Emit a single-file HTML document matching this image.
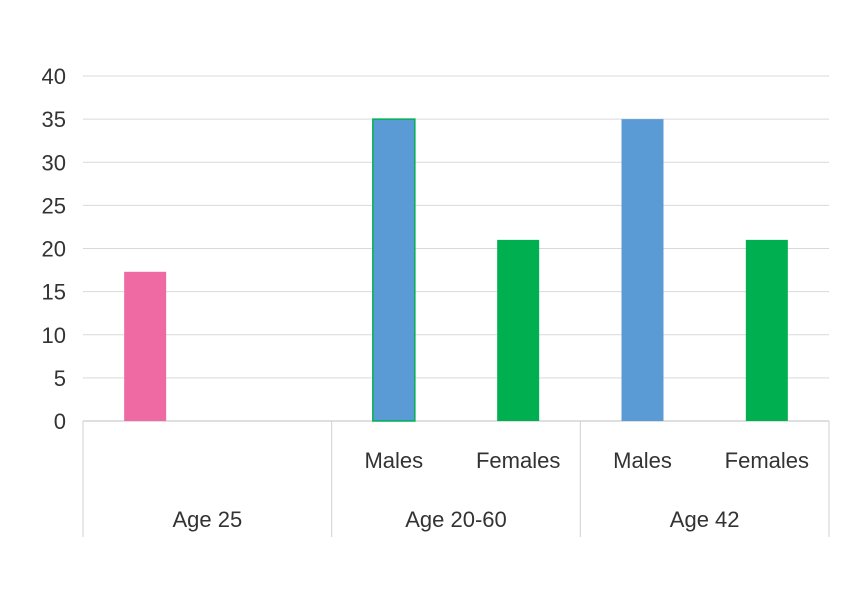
<!DOCTYPE html>
<html><head><meta charset="utf-8"><style>
html,body{margin:0;padding:0;background:#fff;}
svg{display:block;font-family:"Liberation Sans",sans-serif;}
</style></head><body>
<svg id="chart" width="868" height="602"></svg>
<script>
const groups = ["Age 25","Age 20-60","Age 42"];
const subLabels = ["","","Males","Females","Males","Females"];
const values = [17.3,null,35,21,35,21];
const colors = ["#ef6aa3",null,"#5b9bd5","#00b050","#5b9bd5","#00b050"];
const yTicks = [0,5,10,15,20,25,30,35,40];

const NS="http://www.w3.org/2000/svg";
const svg=document.getElementById('chart');
const x0=83,x1=829,yTop=76,yBot=421,yMax=40;
const slotW=(x1-x0)/values.length;
const y=v=>yBot-(v/yMax)*(yBot-yTop);
const xc=i=>x0+slotW*(i+0.5);
function mk(t,a,p){const e=document.createElementNS(NS,t);for(const k in a)e.setAttribute(k,a[k]);(p||svg).appendChild(e);return e;}

yTicks.forEach(t=>{
  const g=mk('line',{x1:x0,x2:x1,y1:y(t),y2:y(t),stroke:t===0?'#bfbfbf':'#d9d9d9','stroke-width':1});
  
  
  const l=mk('text',{x:66,y:y(t)+8,'text-anchor':'end','font-size':22,fill:'#333'});
  l.textContent=t;
  
  
});

values.forEach((v,i)=>{
  if(v==null)return;
  const b=mk('rect',{x:xc(i)-21,y:y(v),width:42,height:yBot-y(v),fill:colors[i]});
  if(i===2){b.setAttribute('stroke','#00b050');b.setAttribute('stroke-width',1.5);}
  
  
  if(subLabels[i]){
    const s=mk('text',{x:xc(i),y:468,'text-anchor':'middle','font-size':22,fill:'#333'});
    s.textContent=subLabels[i];
    
    
  }
});

for(let g=0;g<=groups.length;g++){
  const gx=x0+g*2*slotW;
  const ln=mk('line',{x1:gx,x2:gx,y1:yBot,y2:537,stroke:'#d0d0d0','stroke-width':1});
  
  
}
groups.forEach((n,g)=>{
  const t=mk('text',{x:x0+(g*2+1)*slotW,y:527,'text-anchor':'middle','font-size':22,fill:'#333'});
  t.textContent=n;
  
  
});
</script>
</body></html>
